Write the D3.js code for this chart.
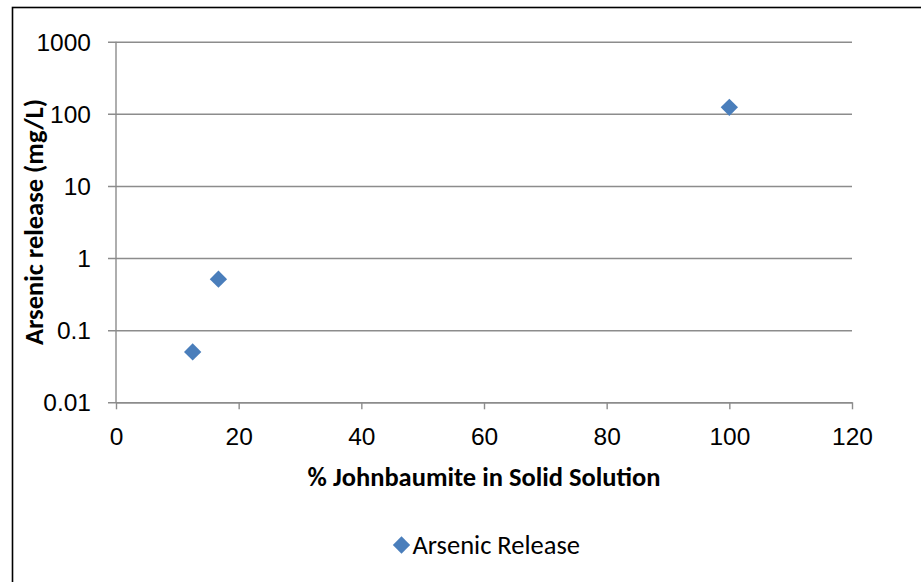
<!DOCTYPE html>
<html>
<head>
<meta charset="utf-8">
<script src="https://cdn.jsdelivr.net/npm/d3@7"></script>
<style>
  html, body { margin: 0; padding: 0; background: #fff; }
  svg { display: block; font-family: Carlito, Lato, sans-serif; }
</style>
</head>
<body>
<svg id="chart" width="921" height="582"></svg>
<script>
// Arsenic release versus johnbaumite fraction
const johnbaumitePct = [12.5, 16.7, 100];
const arsenicRelease = [0.05, 0.51, 123];
const xTicks = [0, 20, 40, 60, 80, 100, 120];
const yTicks = [0.01, 0.1, 1, 10, 100, 1000];
const yTickLabels = ["0.01", "0.1", "1", "10", "100", "1000"];
const seriesName = "Arsenic Release";
const xTitle = "% Johnbaumite in Solid Solution";
const yTitle = "Arsenic release (mg/L)";

const svg = d3.select("#chart");
const plot = { left: 116, right: 852, top: 41.7, bottom: 402.3 };
const gridColor = "#8c8c8c";
const markerColor = "#4a7ebb";
const tickFont = 24.5;

// chart frame
svg.append("rect")
  .attr("x", 12.5).attr("y", 7.5)
  .attr("width", 940).attr("height", 600)
  .attr("fill", "none").attr("stroke", "#000").attr("stroke-width", 1.6);

const x = d3.scaleLinear().domain([0, 120]).range([plot.left, plot.right]);
const y = d3.scaleLog().domain([0.01, 1000]).range([plot.bottom, plot.top]);

// horizontal gridlines + y axis
const yAxis = d3.axisLeft(y)
  .tickValues(yTicks)
  .tickFormat((d, i) => yTickLabels[i])
  .tickSize(-(plot.right - plot.left))
  .tickPadding(25);
const gy = svg.append("g").attr("transform", `translate(${plot.left},0)`).call(yAxis);
gy.select(".domain").remove();
gy.selectAll(".tick line")
  .attr("x1", -8)
  .attr("stroke", gridColor).attr("stroke-width", 1.4);
gy.selectAll(".tick text")
  .attr("font-size", tickFont).attr("fill", "#000").attr("dy", "0.35em");
svg.append("line")
  .attr("x1", plot.left).attr("x2", plot.left)
  .attr("y1", plot.top).attr("y2", plot.bottom)
  .attr("stroke", gridColor).attr("stroke-width", 1.4);

// x axis
const xAxis = d3.axisBottom(x)
  .tickValues(xTicks)
  .tickSize(7)
  .tickSizeOuter(0)
  .tickPadding(18);
const gx = svg.append("g").attr("transform", `translate(0,${plot.bottom})`).call(xAxis);
gx.select(".domain").attr("stroke", gridColor).attr("stroke-width", 1.4);
gx.selectAll(".tick line").attr("stroke", gridColor).attr("stroke-width", 1.4);
gx.selectAll(".tick text").attr("font-size", tickFont).attr("fill", "#000");

// axis titles
svg.append("text")
  .attr("x", (plot.left + plot.right) / 2).attr("y", 486)
  .attr("text-anchor", "middle")
  .attr("font-size", 26.5).attr("font-weight", "bold")
  .text(xTitle);
svg.append("text")
  .attr("transform", `translate(43,${(plot.top + plot.bottom) / 2}) rotate(-90)`)
  .attr("text-anchor", "middle")
  .attr("font-size", 26.5).attr("font-weight", "bold")
  .text(yTitle);

// data points
const diamond = d3.symbol().type(d3.symbolSquare).size(150);
svg.append("g").selectAll("path")
  .data(johnbaumitePct.map((v, i) => [v, arsenicRelease[i]]))
  .join("path")
  .attr("d", diamond)
  .attr("transform", d => `translate(${x(d[0])},${y(d[1])}) rotate(45)`)
  .attr("fill", markerColor);

// legend
const legend = svg.append("g").attr("transform", "translate(401.5,545)");
legend.append("path")
  .attr("d", diamond)
  .attr("transform", "rotate(45)")
  .attr("fill", markerColor);
legend.append("text")
  .attr("x", 11).attr("y", 0).attr("dy", "0.35em")
  .attr("font-size", 26.5)
  .text(seriesName);
</script>
</body>
</html>
